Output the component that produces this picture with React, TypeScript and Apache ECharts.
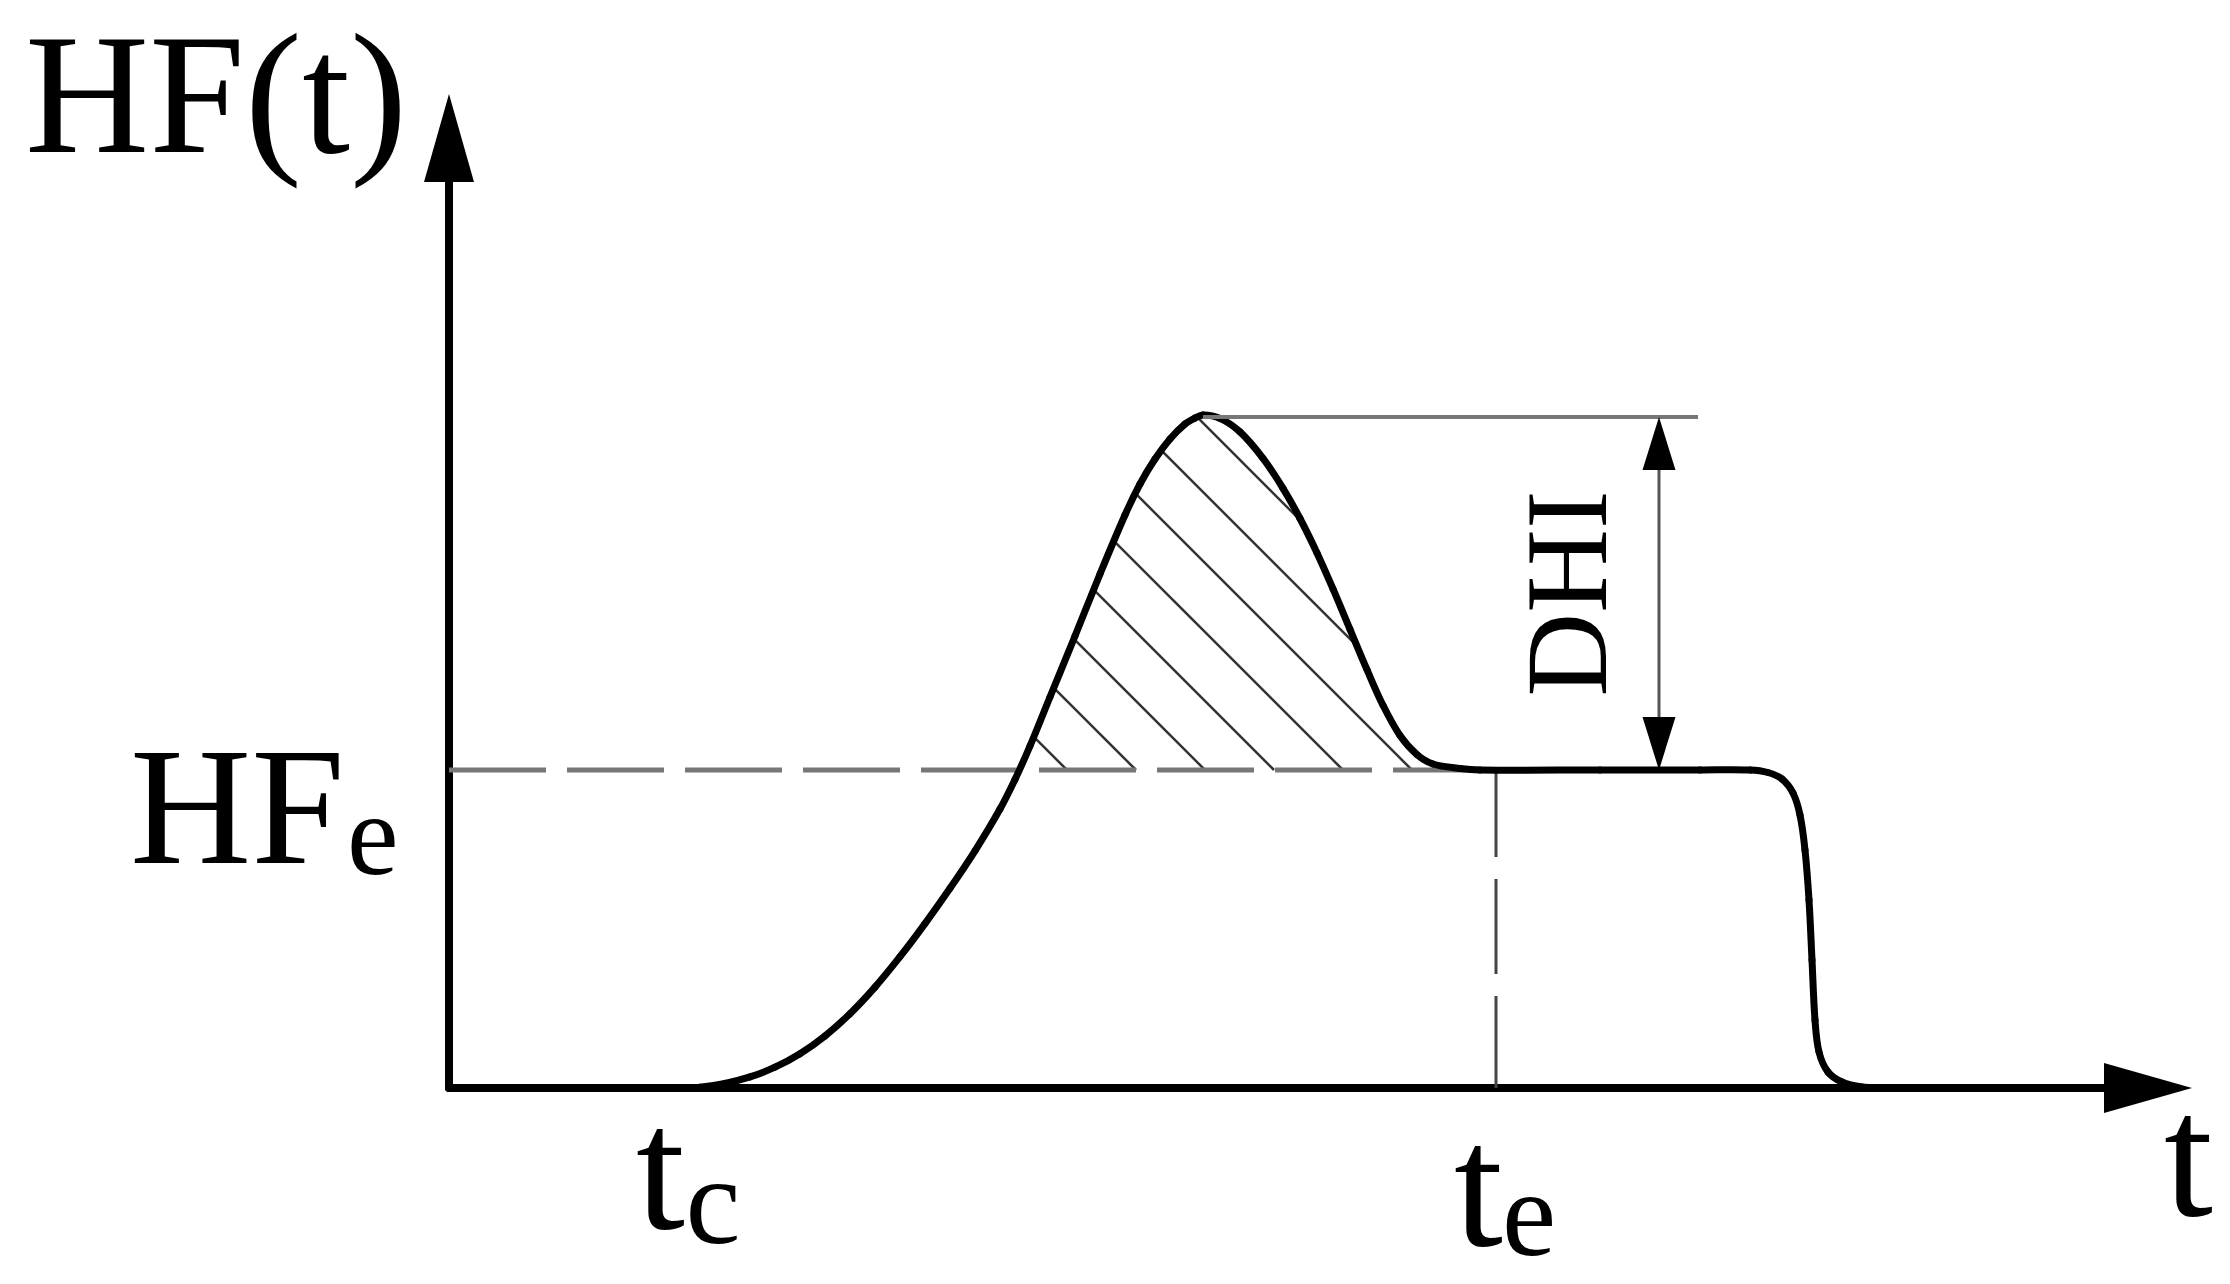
import React, { useEffect, useRef } from "react";
import * as echarts from "echarts";

// ---- data (arbitrary units: time on x, heat flow on y) ----
const X_MAX = 1699;
const Y_MAX = 950;
const HFe = 318;
const tc = 234.5;
const te = 1047;
const peakX = 754;
const dhiTop = 671;
const dhiX = 1210;
const dhiLineEnd = 1249;

const curveT = [
  234, 251, 276, 301, 326, 351, 376, 401, 426, 451, 476, 501, 526, 551, 566, 581, 601, 626,
  651, 676, 691, 706, 721, 736, 746, 754, 771, 791, 814, 834, 851, 868, 884, 901, 918, 934,
  951, 968, 984, 1011, 1031, 1151, 1251, 1301, 1319, 1333, 1344, 1351, 1356, 1360, 1363,
  1366, 1370, 1379, 1393, 1413, 1436,
];
const curveHF = [
  0, 0.8, 4.6, 11.1, 20.8, 34.3, 52.1, 74.3, 100.9, 131.3, 164.4, 199.7, 237.2, 279, 308.6,
  342, 391, 452, 514, 573, 604, 629, 649, 664, 670, 673, 669.6, 656.1, 629.7, 599.7, 569.5,
  535.1, 499.1, 458.7, 418.3, 382.7, 352.5, 333.4, 324, 319.5, 318, 318, 318, 318, 315.5,
  309, 295, 273, 238, 188, 128, 68, 36, 16, 6, 1, 0,
];
// hatched excess above HFe: from the rising crossing to the return to HFe
const hatchFrom = 551;
const hatchTo = 1031;
const hatchFirst = 618; // foot of the first hatch line on the HFe line

const FONT = "Liberation Serif, serif";

type Pt = number[];

// chord-length Catmull-Rom -> cubic bezier segment i (P[i] to P[i+1])
function segment(P: Pt[], i: number) {
  const n = P.length;
  const p0 = P[Math.max(0, i - 1)];
  const p1 = P[i];
  const p2 = P[i + 1];
  const p3 = P[Math.min(n - 1, i + 2)];
  const d = (a: Pt, b: Pt) => Math.hypot(b[0] - a[0], b[1] - a[1]);
  const d01 = d(p0, p1);
  const d12 = d(p1, p2) || 1e-6;
  const d23 = d(p2, p3);
  const m1 = [(p2[0] - p0[0]) / (d01 + d12), (p2[1] - p0[1]) / (d01 + d12)];
  const m2 = [(p3[0] - p1[0]) / (d12 + d23), (p3[1] - p1[1]) / (d12 + d23)];
  const c1 = [p1[0] + (m1[0] * d12) / 3, p1[1] + (m1[1] * d12) / 3];
  const c2 = [p2[0] - (m2[0] * d12) / 3, p2[1] - (m2[1] * d12) / 3];
  return [p1, c1, c2, p2];
}

function sampleSeg(s: Pt[], steps: number): Pt[] {
  const out: Pt[] = [];
  for (let k = 0; k <= steps; k++) {
    const t = k / steps;
    const a = (1 - t) * (1 - t) * (1 - t);
    const b = 3 * (1 - t) * (1 - t) * t;
    const c = 3 * (1 - t) * t * t;
    const e = t * t * t;
    out.push([
      a * s[0][0] + b * s[1][0] + c * s[2][0] + e * s[3][0],
      a * s[0][1] + b * s[1][1] + c * s[2][1] + e * s[3][1],
    ]);
  }
  return out;
}

export default function App() {
  const ref = useRef<HTMLDivElement>(null);

  useEffect(() => {
    if (!ref.current) return;
    const chart = echarts.init(ref.current, undefined, { renderer: "svg" });

    const curve = curveT.map((t, i) => [t, curveHF[i]]);

    const txt = (text: string, x: number, y: number, size: number, extra: any = {}) => ({
      type: "text",
      x,
      y,
      ...extra,
      style: {
        text,
        fontSize: size,
        fontFamily: FONT,
        lineHeight: size,
        fill: "#000",
        align: extra.align || "left",
        verticalAlign: "middle",
      },
    });

    const axisCommon = {
      type: "value",
      axisLine: {
        show: true,
        onZero: true,
        symbol: ["none", "triangle"],
        symbolSize: [50, 88],
        lineStyle: { color: "#000", width: 8 },
      },
      axisTick: { show: false },
      axisLabel: { show: false },
      splitLine: { show: false },
    };

    const option: any = {
      animation: false,
      backgroundColor: "#fff",
      grid: { left: 449, right: 82, top: 138, bottom: 196, containLabel: false },
      xAxis: { ...axisCommon, min: 0, max: X_MAX },
      yAxis: { ...axisCommon, min: 0, max: Y_MAX },
      series: [
        {
          // hatching of the excess heat-flow area above HFe
          type: "custom",
          name: "excess",
          data: [[hatchFrom, HFe]],
          clip: false,
          silent: true,
          z: 1,
          renderItem: (_p: any, api: any) => {
            const P = curve.map((p) => api.coord(p));
            const hfePx = api.coord([0, HFe])[1];
            const poly: Pt[] = [];
            for (let i = 0; i < curve.length - 1; i++) {
              if (curve[i][0] < hatchFrom || curve[i + 1][0] > hatchTo) continue;
              const pts = sampleSeg(segment(P, i), 24);
              pts.forEach((q) => poly.push([q[0], Math.min(q[1], hfePx)]));
            }
            const x0 = api.coord([hatchFirst, HFe])[0];
            const sp = 69;
            const children: any[] = [];
            for (let j = -4; j < 14; j++) {
              const k = x0 + j * sp - hfePx;
              const hits: Pt[] = [];
              for (let e = 0; e < poly.length; e++) {
                const A = poly[e];
                const B = poly[(e + 1) % poly.length];
                const fA = A[0] - A[1] - k;
                const fB = B[0] - B[1] - k;
                if (fA < 0 !== fB < 0) {
                  const t = fA / (fA - fB);
                  hits.push([A[0] + t * (B[0] - A[0]), A[1] + t * (B[1] - A[1])]);
                }
              }
              hits.sort((a, b) => a[0] - b[0]);
              for (let h = 0; h + 1 < hits.length; h += 2) {
                if (Math.abs(hits[h + 1][0] - hits[h][0]) < 1) continue;
                children.push({
                  type: "line",
                  shape: { x1: hits[h][0], y1: hits[h][1], x2: hits[h + 1][0], y2: hits[h + 1][1] },
                  style: { stroke: "#333", lineWidth: 2.5 },
                });
              }
            }
            return { type: "group", children };
          },
        },
        {
          type: "line",
          name: "HFe level",
          data: [
            [0, HFe],
            [hatchTo, HFe],
          ],
          showSymbol: false,
          lineStyle: { color: "#777", width: 5, type: [97, 21] },
          z: 2,
          silent: true,
        },
        {
          type: "line",
          name: "te",
          data: [
            [te, HFe],
            [te, 0],
          ],
          showSymbol: false,
          lineStyle: { color: "#444", width: 3, type: [95, 22], dashOffset: 8 },
          z: 2,
          silent: true,
        },
        {
          type: "custom",
          name: "HF(t)",
          data: curve,
          encode: { x: 0, y: 1 },
          clip: false,
          silent: true,
          z: 3,
          renderItem: (params: any, api: any) => {
            const i = params.dataIndex;
            if (i >= curve.length - 1) return null;
            const P = curve.map((p) => api.coord(p));
            const s = segment(P, i);
            return {
              type: "bezierCurve",
              shape: {
                x1: s[0][0],
                y1: s[0][1],
                cpx1: s[1][0],
                cpy1: s[1][1],
                cpx2: s[2][0],
                cpy2: s[2][1],
                x2: s[3][0],
                y2: s[3][1],
              },
              style: { stroke: "#000", lineWidth: 7, fill: "none", lineCap: "round" },
            };
          },
        },
        {
          type: "custom",
          name: "annotations",
          data: [[0, 0]],
          clip: false,
          silent: true,
          z: 4,
          renderItem: (_p: any, api: any) => {
            const O = api.coord([0, 0]);
            const T = api.coord([0, Y_MAX]);
            const E = api.coord([X_MAX, 0]);
            const pk = api.coord([peakX, dhiTop]);
            const le = api.coord([dhiLineEnd, dhiTop]);
            const aTop = api.coord([dhiX, dhiTop]);
            const aBot = api.coord([dhiX, HFe]);
            const hf = api.coord([0, HFe]);
            const tcP = api.coord([tc, 0]);
            const teP = api.coord([te, 0]);
            const hw = 16.5;
            const hl = 53;
            return {
              type: "group",
              children: [
                {
                  type: "line",
                  shape: { x1: pk[0], y1: pk[1], x2: le[0], y2: le[1] },
                  style: { stroke: "#777", lineWidth: 4 },
                },
                {
                  type: "line",
                  shape: { x1: aTop[0], y1: aTop[1] + hl - 4, x2: aBot[0], y2: aBot[1] - hl + 4 },
                  style: { stroke: "#555", lineWidth: 3 },
                },
                {
                  type: "polygon",
                  shape: {
                    points: [
                      [aTop[0], aTop[1]],
                      [aTop[0] - hw, aTop[1] + hl],
                      [aTop[0] + hw, aTop[1] + hl],
                    ],
                  },
                  style: { fill: "#000" },
                },
                {
                  type: "polygon",
                  shape: {
                    points: [
                      [aBot[0], aBot[1]],
                      [aBot[0] - hw, aBot[1] - hl],
                      [aBot[0] + hw, aBot[1] - hl],
                    ],
                  },
                  style: { fill: "#000" },
                },
                txt("DHI", aTop[0] - 92, (aTop[1] + aBot[1]) / 2, 116, {
                  rotation: Math.PI / 2,
                  align: "center",
                }),
                txt("HF(t)", T[0] - 424, T[1] - 44, 172),
                txt("HF", O[0] - 319, hf[1] + 36, 168),
                txt("e", O[0] - 102, hf[1] + 65, 116),
                txt("t", tcP[0] - 47.5, O[1] + 80.6, 176),
                txt("c", tcP[0] + 2, O[1] + 113, 124),
                txt("t", teP[0] - 42, O[1] + 97.6, 176),
                txt("e", teP[0] + 6, O[1] + 125, 122),
                txt("t", E[0] + 16, O[1] + 67.6, 176),
              ],
            };
          },
        },
      ],
    };

    chart.setOption(option);
    return () => chart.dispose();
  }, []);

  return (
    <div
      ref={ref}
      style={{ position: "fixed", left: 0, top: 0, width: 2230, height: 1284, background: "#fff" }}
    />
  );
}
